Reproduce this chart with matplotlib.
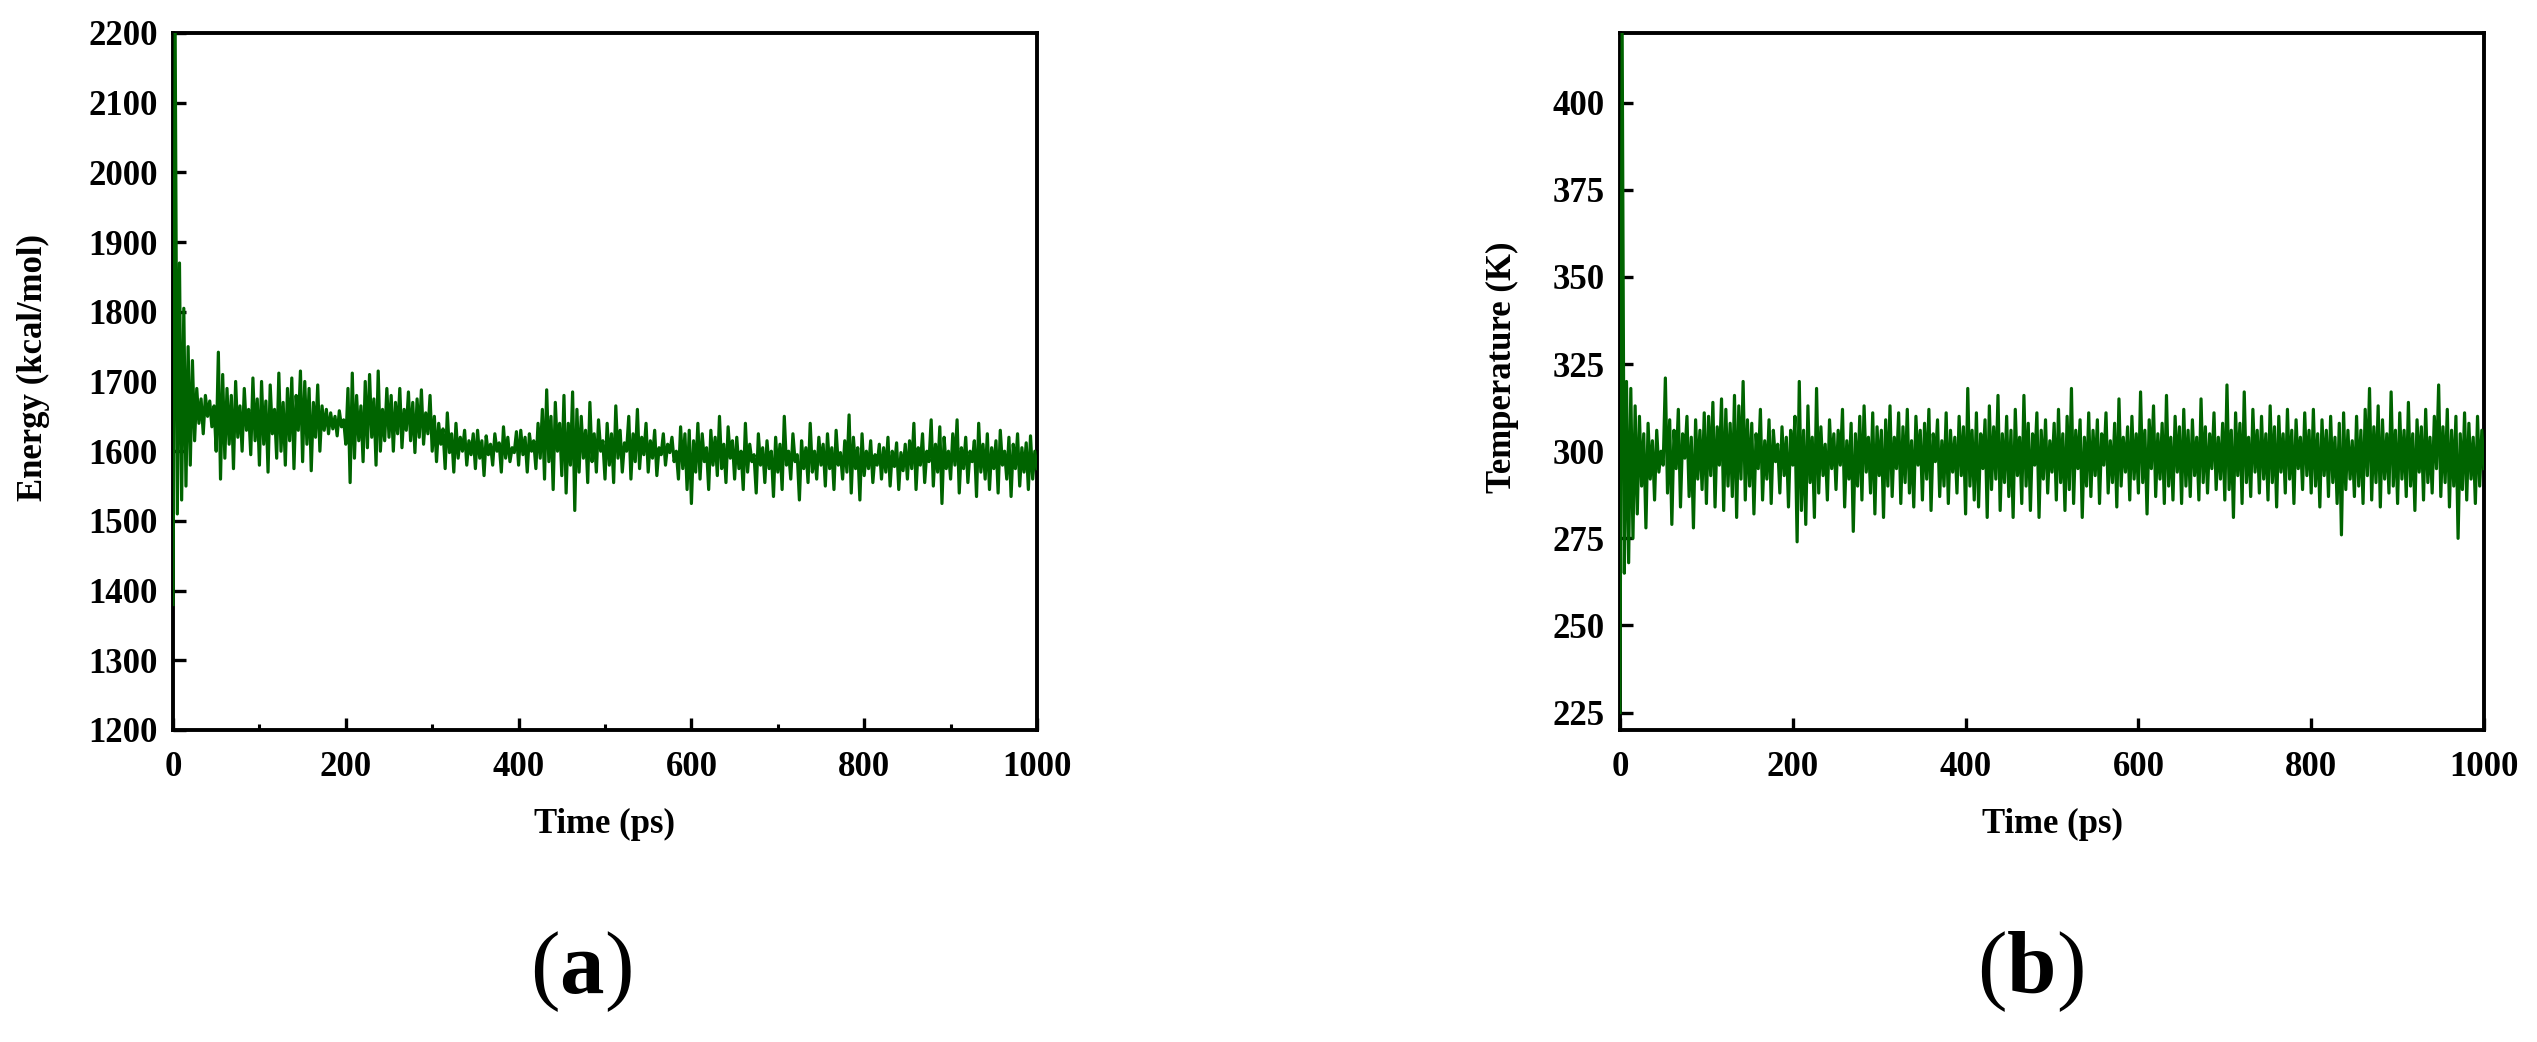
import numpy as np
import matplotlib
matplotlib.use("Agg")
import matplotlib.pyplot as plt
from matplotlib.ticker import MultipleLocator

plt.rcParams['font.family'] = ['Liberation Serif', 'DejaVu Serif']
plt.rcParams['mathtext.fontset'] = 'custom'
plt.rcParams['mathtext.rm'] = 'Liberation Serif'
plt.rcParams['mathtext.bf'] = 'Liberation Serif:bold'

time_ps = np.arange(0, 1000.01, 2.5)

energy_kcal = [
    1380, 2200, 1510, 1870, 1530, 1805, 1550, 1750, 1580, 1730, 1615, 1690, 1640, 1675, 1625, 1680, 1650, 1672, 1635, 1665,
    1600, 1742, 1560, 1710, 1590, 1690, 1610, 1680, 1575, 1700, 1620, 1665, 1600, 1690, 1630, 1660, 1595, 1705, 1615, 1675,
    1580, 1700, 1610, 1672, 1570, 1695, 1625, 1660, 1590, 1712, 1600, 1670, 1580, 1690, 1615, 1705, 1575, 1680, 1630, 1715,
    1585, 1700, 1610, 1690, 1572, 1670, 1620, 1695, 1600, 1665, 1630, 1660, 1625, 1655, 1632, 1650, 1622, 1658, 1635, 1645,
    1610, 1690, 1555, 1712, 1590, 1680, 1615, 1665, 1585, 1700, 1605, 1710, 1620, 1675, 1580, 1715, 1600, 1660, 1615, 1690,
    1620, 1680, 1600, 1670, 1625, 1690, 1605, 1660, 1630, 1685, 1615, 1670, 1598, 1675, 1620, 1688, 1610, 1655, 1625, 1680,
    1600, 1650, 1585, 1640, 1610, 1632, 1575, 1655, 1598, 1625, 1570, 1640, 1590, 1620, 1600, 1630, 1580, 1615, 1595, 1625,
    1575, 1630, 1590, 1615, 1565, 1622, 1595, 1610, 1580, 1625, 1600, 1612, 1570, 1635, 1590, 1620, 1585, 1605, 1598, 1628,
    1580, 1630, 1595, 1620, 1570, 1625, 1600, 1615, 1575, 1640, 1590, 1660, 1560, 1688, 1585, 1650, 1545, 1670, 1600, 1640,
    1565, 1680, 1540, 1640, 1580, 1685, 1515, 1660, 1570, 1650, 1590, 1630, 1555, 1670, 1585, 1625, 1570, 1645, 1600, 1615,
    1560, 1640, 1580, 1625, 1555, 1665, 1590, 1630, 1570, 1612, 1600, 1650, 1560, 1625, 1585, 1660, 1575, 1620, 1595, 1640,
    1570, 1615, 1590, 1630, 1565, 1605, 1595, 1625, 1580, 1610, 1598, 1620, 1585, 1600, 1560, 1635, 1575, 1625, 1545, 1630,
    1525, 1615, 1570, 1640, 1560, 1625, 1585, 1605, 1545, 1630, 1580, 1620, 1565, 1650, 1575, 1610, 1555, 1635, 1590, 1615,
    1560, 1620, 1575, 1600, 1545, 1640, 1570, 1610, 1585, 1595, 1540, 1625, 1580, 1605, 1555, 1615, 1575, 1600, 1535, 1620,
    1570, 1610, 1545, 1650, 1580, 1600, 1560, 1625, 1585, 1595, 1530, 1615, 1575, 1605, 1555, 1640, 1570, 1600, 1560, 1620,
    1580, 1610, 1550, 1625, 1575, 1605, 1545, 1630, 1580, 1598, 1560, 1615, 1570, 1652, 1540, 1620, 1575, 1605, 1530, 1625,
    1565, 1600, 1575, 1615, 1555, 1595, 1580, 1610, 1560, 1605, 1570, 1620, 1550, 1600, 1578, 1612, 1545, 1598, 1572, 1610,
    1560, 1615, 1575, 1640, 1545, 1605, 1580, 1625, 1555, 1600, 1585, 1645, 1550, 1610, 1570, 1635, 1525, 1620, 1575, 1600,
    1560, 1625, 1580, 1645, 1540, 1605, 1575, 1620, 1555, 1600, 1585, 1615, 1535, 1640, 1570, 1610, 1560, 1625, 1545, 1605,
    1575, 1615, 1540, 1630, 1580, 1600, 1560, 1620, 1535, 1610, 1575, 1625, 1550, 1605, 1570, 1612, 1545, 1622, 1560, 1600,
    1575,
]

temperature_K = [
    225, 420, 265, 320, 268, 318, 275, 313, 282, 310, 290, 305, 278, 308, 292, 303, 286, 306, 294, 300,
    296, 321, 288, 309, 279, 306, 295, 312, 284, 305, 298, 310, 287, 304, 278, 309, 292, 306, 289, 311,
    285, 310, 293, 314, 284, 307, 296, 315, 283, 312, 290, 308, 287, 316, 281, 313, 292, 320, 286, 309,
    290, 308, 282, 305, 295, 312, 286, 303, 292, 309, 285, 306, 297, 302, 288, 307, 293, 304, 284, 306,
    296, 310, 274, 320, 283, 306, 279, 313, 291, 304, 281, 318, 288, 307, 293, 302, 286, 309, 295, 305,
    289, 306, 296, 312, 284, 303, 292, 308, 277, 305, 290, 310, 286, 313, 294, 304, 288, 311, 282, 307,
    293, 306, 281, 309, 290, 313, 287, 304, 295, 311, 285, 307, 291, 312, 288, 303, 284, 310, 296, 306,
    286, 308, 292, 312, 283, 305, 297, 309, 287, 303, 290, 311, 285, 306, 294, 304, 288, 310, 293, 307,
    282, 318, 290, 306, 286, 311, 284, 305, 295, 309, 281, 313, 289, 307, 292, 316, 283, 305, 291, 310,
    287, 306, 281, 312, 293, 304, 285, 316, 290, 308, 283, 305, 296, 311, 281, 306, 292, 309, 288, 303,
    294, 308, 286, 312, 291, 305, 283, 310, 289, 318, 285, 306, 295, 309, 281, 304, 290, 311, 287, 306,
    293, 309, 285, 305, 296, 311, 288, 303, 291, 308, 284, 315, 290, 304, 294, 307, 286, 310, 292, 305,
    288, 317, 291, 306, 282, 309, 295, 313, 287, 305, 292, 308, 285, 316, 290, 304, 286, 310, 294, 307,
    285, 312, 290, 306, 287, 309, 293, 304, 286, 315, 291, 307, 288, 305, 295, 311, 289, 304, 292, 308,
    286, 319, 289, 306, 281, 311, 293, 308, 285, 317, 291, 304, 287, 312, 294, 306, 288, 310, 292, 305,
    286, 313, 291, 307, 284, 310, 294, 305, 288, 312, 292, 306, 285, 309, 295, 304, 289, 311, 293, 306,
    288, 312, 290, 305, 284, 309, 293, 306, 287, 310, 291, 304, 285, 308, 276, 311, 289, 306, 292, 303,
    287, 310, 290, 306, 285, 312, 293, 318, 286, 307, 291, 313, 284, 309, 292, 305, 288, 317, 290, 306,
    285, 311, 292, 306, 287, 314, 290, 305, 283, 309, 294, 307, 286, 312, 291, 304, 288, 310, 295, 319,
    287, 307, 291, 312, 284, 306, 290, 310, 275, 305, 289, 311, 286, 308, 292, 304, 285, 310, 290, 306,
    295,
]

x_ticks = [0, 200, 400, 600, 800, 1000]
energy_ticks = list(range(1200, 2201, 100))
temp_ticks = [225, 250, 275, 300, 325, 350, 375, 400]
panel_labels = ['a', 'b']

# ---------------- figure ----------------
W, H = 2537, 1042
fig = plt.figure(figsize=(W / 100, H / 100), dpi=100)

line_color = '#006400'
fs = 25


def px_axes(x0, x1, ytop, ybot):
    return [x0 / W, 1 - ybot / H, (x1 - x0) / W, (ybot - ytop) / H]


ax1 = fig.add_axes(px_axes(173, 1037, 33, 730))
ax2 = fig.add_axes(px_axes(1620, 2484, 33, 730))


def style(ax, minor):
    for s in ax.spines.values():
        s.set_linewidth(2.8)
    ax.tick_params(axis='both', which='major', direction='in', length=9,
                   width=2.4, top=False, right=False, labelsize=fs)
    ax.tick_params(axis='x', which='major', pad=15)
    ax.tick_params(axis='y', which='major', pad=11)
    if minor:
        ax.xaxis.set_minor_locator(MultipleLocator(100))
        ax.tick_params(axis='x', which='minor', direction='in', length=4,
                       width=2.2, top=False)
    else:
        ax.minorticks_off()
    for lab in ax.get_xticklabels() + ax.get_yticklabels():
        lab.set_fontweight('bold')


ax1.plot(time_ps, energy_kcal, color=line_color, lw=2.3, zorder=3)
ax1.set_xlim(0, 1000)
ax1.set_ylim(1200, 2200)
ax1.set_xticks(x_ticks)
ax1.set_yticks(energy_ticks)
style(ax1, True)
ax1.set_xlabel('Time (ps)', fontsize=fs, fontweight='bold', va='center')
ax1.xaxis.set_label_coords(0.5, (730 - 824) / 697)
ax1.set_ylabel('Energy (kcal/mol)', fontsize=fs, fontweight='bold', va='center')
ax1.yaxis.set_label_coords((33 - 173) / 864, 0.52)

ax2.plot(time_ps, temperature_K, color=line_color, lw=2.3, zorder=3)
ax2.set_xlim(0, 1000)
ax2.set_ylim(220, 420)
ax2.set_xticks(x_ticks)
ax2.set_yticks(temp_ticks)
style(ax2, False)
ax2.set_xlabel('Time (ps)', fontsize=fs, fontweight='bold', va='center')
ax2.xaxis.set_label_coords(0.5, (730 - 824) / 697)
ax2.set_ylabel('Temperature (K)', fontsize=fs, fontweight='bold', va='center')
ax2.yaxis.set_label_coords((1502 - 1620) / 864, 0.52)

for lab, xc in zip(panel_labels, [581, 2030]):
    fig.text(xc / W, 1 - 972 / H, '(' + r'$\mathbf{' + lab + '}$' + ')',
             fontsize=64, ha='center', va='center')

fig.savefig('out.png', dpi=100)
